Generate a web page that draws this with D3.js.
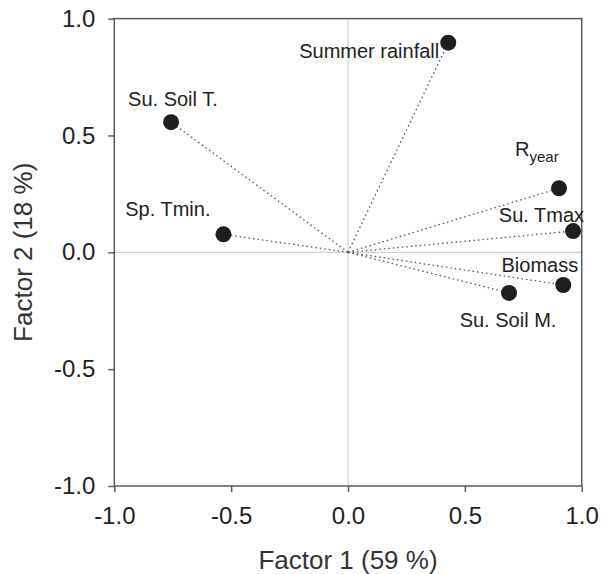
<!DOCTYPE html>
<html>
<head>
<meta charset="utf-8">
<script src="https://cdn.jsdelivr.net/npm/d3@7"></script>
<style type="text/css">
  body{
    background: white;
    margin: 0px;
    font-family: 'Liberation Sans', Arial, sans-serif;
  }
  .tick text{
    font-size: 24px;
    fill: #222;
  }
  .label{
    font-size: 20px;
    fill: #222;
  }
  .axisTitle{
    font-size: 26px;
    fill: #333;
  }
  .vector{
    fill: none;
    stroke: #555;
    stroke-width: 1.3px;
    stroke-dasharray: 1.5,3;
  }
</style>
</head>
<body>

<script>

// loadings
var variables = ["Summer rainfall", "Su. Soil T.", "Sp. Tmin.", "Ryear", "Su. Tmax", "Biomass", "Su. Soil M."];
var factor1 = [0.429, -0.757, -0.533, 0.903, 0.963, 0.921, 0.689];
var factor2 = [0.897, 0.557, 0.077, 0.274, 0.091, -0.140, -0.174];
var tickValues = [-1.0, -0.5, 0.0, 0.5, 1.0];

// where each label sits relative to its point (layout only)
var labelPlace = {
  "Summer rainfall": {anchor: "end", dx: -9, dy: 15},
  "Su. Soil T.":     {anchor: "start", dx: -43, dy: -16},
  "Sp. Tmin.":       {anchor: "end", dx: -13, dy: -18},
  "Ryear":           {anchor: "start", dx: -44, dy: -32},
  "Su. Tmax":        {anchor: "end", dx: 11, dy: -9},
  "Biomass":         {anchor: "end", dx: 15, dy: -13},
  "Su. Soil M.":     {anchor: "middle", dx: -1, dy: 34}
};

var data = variables.map(function(v, i) {
  return {name: v, x: factor1[i], y: factor2[i]};
});

var width = 601, height = 574;
var margin = {top: 18.6, right: 19.3, bottom: 88, left: 114.3};

var svg = d3.select("body").append("svg")
    .attr("width", width)
    .attr("height", height);

var x = d3.scaleLinear().domain([-1, 1]).range([margin.left, width - margin.right]);
var y = d3.scaleLinear().domain([-1, 1]).range([height - margin.bottom, margin.top]);

// zero lines
svg.append("line")
    .attr("x1", x(0)).attr("x2", x(0))
    .attr("y1", y(1)).attr("y2", y(-1))
    .attr("stroke", "#c8c8c8").attr("stroke-width", 1);
svg.append("line")
    .attr("x1", x(-1)).attr("x2", x(1))
    .attr("y1", y(0)).attr("y2", y(0))
    .attr("stroke", "#c8c8c8").attr("stroke-width", 1);

// frame
svg.append("rect")
    .attr("x", x(-1)).attr("y", y(1))
    .attr("width", x(1) - x(-1))
    .attr("height", y(-1) - y(1))
    .attr("fill", "none")
    .attr("stroke", "#5a5a5a")
    .attr("stroke-width", 1.5);

var xAxis = svg.append("g")
    .attr("transform", "translate(0," + y(-1) + ")")
    .call(d3.axisBottom(x).tickValues(tickValues).tickFormat(d3.format(".1f")).tickSize(6).tickPadding(15));
var yAxis = svg.append("g")
    .attr("transform", "translate(" + x(-1) + ",0)")
    .call(d3.axisLeft(y).tickValues(tickValues).tickFormat(d3.format(".1f")).tickSize(6).tickPadding(13));

[xAxis, yAxis].forEach(function(g) {
  g.select(".domain").remove();
  g.selectAll(".tick line").attr("stroke", "#5a5a5a").attr("stroke-width", 1.5);
  g.selectAll(".tick text").attr("font-family", null).attr("font-size", null);
});
// d3 uses a unicode minus; the picture has a hyphen
svg.selectAll(".tick text").text(function(d) { return d3.format(".1f")(d).replace("\u2212", "-"); });

// vectors
svg.selectAll(".vector")
    .data(data)
  .enter().append("line")
    .attr("class", "vector")
    .attr("x1", x(0)).attr("y1", y(0))
    .attr("x2", function(d) { return x(d.x); })
    .attr("y2", function(d) { return y(d.y); });

svg.selectAll(".dot")
    .data(data)
  .enter().append("circle")
    .attr("class", "dot")
    .attr("cx", function(d) { return x(d.x); })
    .attr("cy", function(d) { return y(d.y); })
    .attr("r", 8)
    .attr("fill", "#1e1e1e");

var labels = svg.selectAll(".label")
    .data(data)
  .enter().append("text")
    .attr("class", "label")
    .attr("x", function(d) { return x(d.x) + labelPlace[d.name].dx; })
    .attr("y", function(d) { return y(d.y) + labelPlace[d.name].dy; })
    .attr("text-anchor", function(d) { return labelPlace[d.name].anchor; });

labels.each(function(d) {
  var t = d3.select(this);
  if (d.name === "Ryear") {
    t.append("tspan").text("R");
    t.append("tspan").attr("dy", 6).attr("font-size", "15px").text("year");
  } else {
    t.text(d.name);
  }
});

// axis titles
svg.append("text")
    .attr("class", "axisTitle")
    .attr("x", x(0))
    .attr("y", 569)
    .attr("text-anchor", "middle")
    .text("Factor 1 (59 %)");

svg.append("text")
    .attr("class", "axisTitle")
    .attr("transform", "translate(32," + y(0) + ") rotate(-90)")
    .attr("text-anchor", "middle")
    .text("Factor 2 (18 %)");

</script>

</body>
</html>
